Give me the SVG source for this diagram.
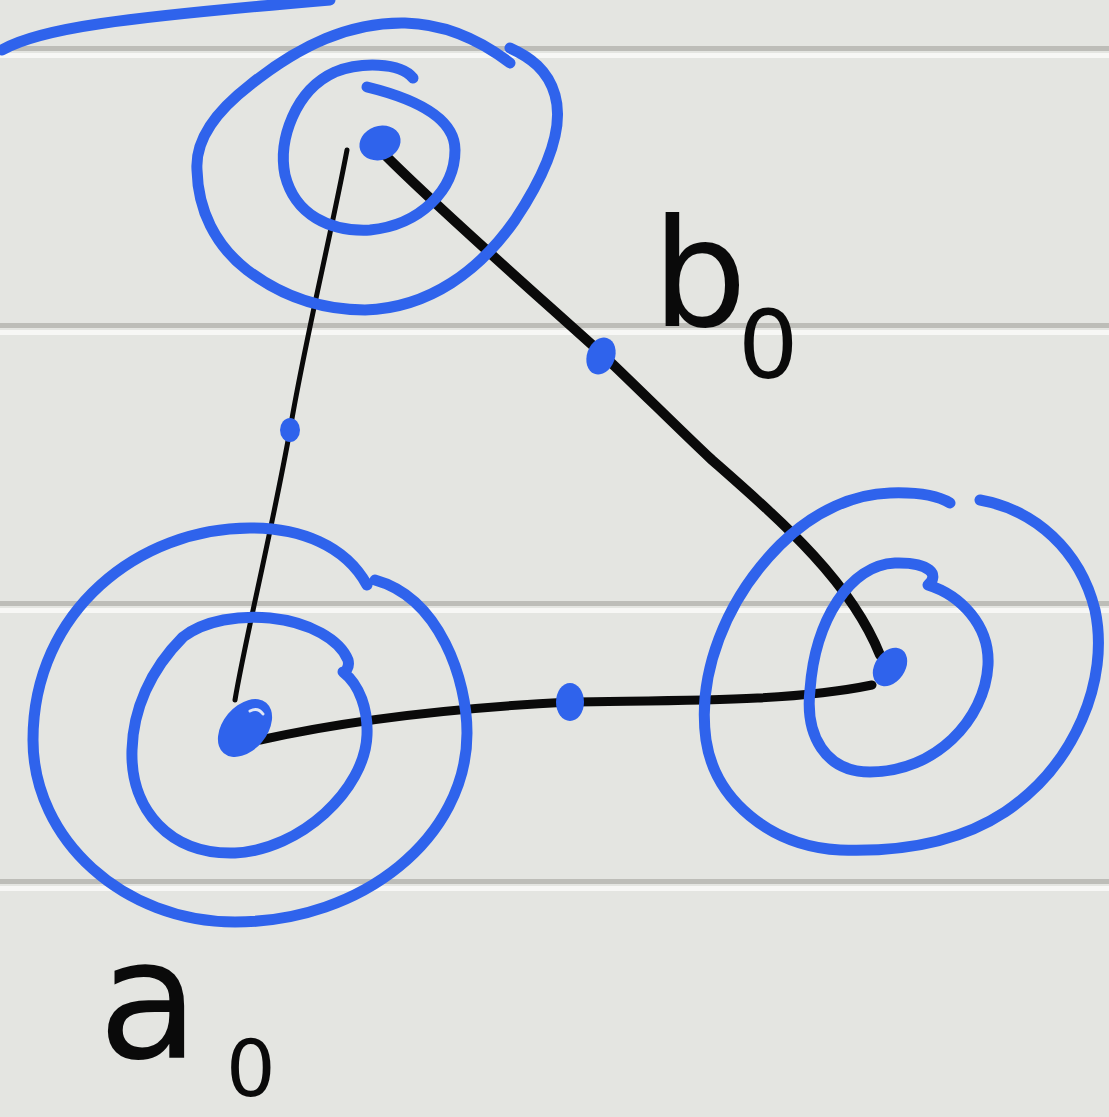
<svg xmlns="http://www.w3.org/2000/svg" width="1109" height="1117" viewBox="0 0 1109 1117">
<style>
.bg{fill:#e4e5e1}
.rg{fill:#bdbdb8}
.rw{fill:#f7f7f5}
.ring{fill:none;stroke:#2f63ec;stroke-width:11;stroke-linecap:round;stroke-linejoin:round}
.edge{fill:none;stroke:#0a0a0a;stroke-linecap:round;stroke-linejoin:round}
.dot{fill:#2f63ec}
.hl{fill:none;stroke:#dfe6f7;stroke-width:3;stroke-linecap:round}
.lbl{font-family:"DejaVu Sans",sans-serif;fill:#0a0a0a}
</style>
<rect class="bg" x="0" y="0" width="1109" height="1117"/>
<g id="ruling">
<rect class="rg" x="0" y="46" width="1109" height="5"/><rect class="rw" x="0" y="53" width="1109" height="5"/>
<rect class="rg" x="0" y="323" width="1109" height="5"/><rect class="rw" x="0" y="330" width="1109" height="5"/>
<rect class="rg" x="0" y="601" width="1109" height="5"/><rect class="rw" x="0" y="608" width="1109" height="5"/>
<rect class="rg" x="0" y="879" width="1109" height="5"/><rect class="rw" x="0" y="886" width="1109" height="5"/>
</g>
<path class="ring" stroke-width="6" d="M 2 50 C 40 28, 120 18, 330 0"/>
<g id="connectors">
<path class="edge" stroke-width="5" d="M 347 150 C 330 240, 305 340, 290 430 C 270 540, 245 640, 235 700"/>
<path class="edge" stroke-width="10" d="M 385 155 C 440 210, 520 280, 600 352 C 640 390, 680 430, 712 460 C 780 520, 850 580, 880 655"/>
<path class="edge" stroke-width="9" d="M 260 740 C 340 722, 450 708, 570 702 C 680 700, 790 702, 872 685"/>
</g>
<g id="node-top">
<path class="ring" d="M 510 63 C 480 40, 445 24, 405 23 C 350 22, 300 45, 250 85 C 215 112, 195 140, 197 170 C 198 210, 215 245, 247 270 C 280 295, 320 310, 365 310 C 430 308, 480 270, 515 220 C 545 175, 565 130, 555 95 C 548 70, 530 57, 510 48"/>
<path class="ring" d="M 413 78 C 400 62, 360 62, 335 72 C 295 90, 278 140, 285 175 C 295 215, 330 232, 370 230 C 420 225, 455 190, 455 150 C 455 120, 420 100, 367 87"/>
<ellipse class="dot" cx="380" cy="143" rx="21" ry="17" transform="rotate(-20 380 143)"/>
</g>
<g id="node-left">
<path class="ring" d="M 367 585 C 345 545, 300 528, 250 528 C 140 528, 33 610, 33 740 C 33 840, 124 922, 235 922 C 363 922, 467 837, 467 733 C 467 680, 440 598, 375 580"/>
<path class="ring" d="M 183 637 C 205 620, 240 615, 270 618 C 310 622, 340 640, 348 660 C 350 668, 345 672, 343 672 C 360 685, 368 710, 367 735 C 365 790, 300 850, 235 853 C 170 855, 130 810, 132 750 C 133 710, 150 670, 183 637"/>
<ellipse class="dot" cx="245" cy="728" rx="22" ry="33" transform="rotate(40 245 728)"/>
<path class="hl" d="M 250 711 Q 258 707 263 714"/>
</g>
<g id="node-right">
<path class="ring" d="M 980 500 C 1035 510, 1080 550, 1095 610 C 1110 680, 1075 765, 1005 812 C 955 845, 895 852, 840 850 C 770 846, 715 800, 706 740 C 697 675, 725 600, 780 545 C 815 510, 855 494, 890 493 C 920 492, 940 497, 950 503"/>
<path class="ring" d="M 810 690 C 815 620, 850 565, 895 563 C 930 562, 940 575, 928 585 C 960 595, 990 625, 988 665 C 985 720, 935 772, 870 772 C 825 772, 805 735, 810 690"/>
<ellipse class="dot" cx="890" cy="667" rx="15" ry="21" transform="rotate(35 890 667)"/>
</g>
<g id="midpoints">
<ellipse class="dot" cx="290" cy="430" rx="10" ry="12"/>
<ellipse class="dot" cx="601" cy="356" rx="14" ry="19" transform="rotate(20 601 356)"/>
<ellipse class="dot" cx="570" cy="702" rx="14" ry="19"/>
</g>
<g id="labels">
<text class="lbl" x="652" y="326" font-size="150">b</text>
<text class="lbl" x="738" y="378" font-size="95">0</text>
<text class="lbl" x="98" y="1058" font-size="165">a</text>
<text class="lbl" x="226" y="1096" font-size="78">0</text>
</g>
</svg>
